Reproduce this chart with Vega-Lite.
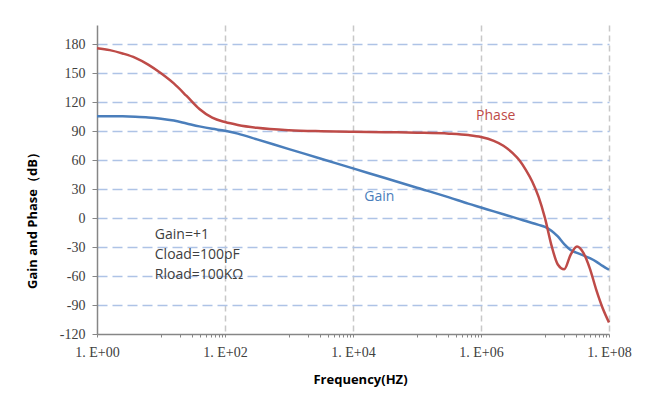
{
  "$schema": "https://vega.github.io/schema/vega-lite/v6.json",
  "width": 512,
  "height": 309,
  "autosize": {"type": "none"},
  "padding": {"left": 97, "top": 25, "right": 39, "bottom": 71},
  "background": "white",
  "config": {"view": {"stroke": null}, "font": "Open Sans"},
  "datasets": {
    "curves": [
      {"series": "Gain", "f": 1, "v": 105.5},
      {"series": "Gain", "f": 1.585, "v": 105.5},
      {"series": "Gain", "f": 2.512, "v": 105.4},
      {"series": "Gain", "f": 3.981, "v": 105},
      {"series": "Gain", "f": 6.31, "v": 104.3},
      {"series": "Gain", "f": 10, "v": 103},
      {"series": "Gain", "f": 15.85, "v": 101},
      {"series": "Gain", "f": 25.12, "v": 98},
      {"series": "Gain", "f": 39.81, "v": 95},
      {"series": "Gain", "f": 63.1, "v": 92.5},
      {"series": "Gain", "f": 100, "v": 90.5},
      {"series": "Gain", "f": 158.5, "v": 87.5},
      {"series": "Gain", "f": 316.2, "v": 81.5},
      {"series": "Gain", "f": 1000, "v": 71.5},
      {"series": "Gain", "f": 3162, "v": 61.5},
      {"series": "Gain", "f": 10000, "v": 51.5},
      {"series": "Gain", "f": 31623, "v": 41.5},
      {"series": "Gain", "f": 100000, "v": 31.5},
      {"series": "Gain", "f": 316228, "v": 21.5},
      {"series": "Gain", "f": 630957, "v": 15},
      {"series": "Gain", "f": 1000000, "v": 11},
      {"series": "Gain", "f": 1584893, "v": 7},
      {"series": "Gain", "f": 2238721, "v": 4},
      {"series": "Gain", "f": 3162278, "v": 1},
      {"series": "Gain", "f": 3981072, "v": -1},
      {"series": "Gain", "f": 5011872, "v": -3},
      {"series": "Gain", "f": 6309573, "v": -5},
      {"series": "Gain", "f": 7943282, "v": -7},
      {"series": "Gain", "f": 10000000, "v": -9},
      {"series": "Gain", "f": 12589254, "v": -13},
      {"series": "Gain", "f": 15848932, "v": -19},
      {"series": "Gain", "f": 19952623, "v": -27},
      {"series": "Gain", "f": 25118864, "v": -33},
      {"series": "Gain", "f": 31622777, "v": -36},
      {"series": "Gain", "f": 39810717, "v": -38.5},
      {"series": "Gain", "f": 50118723, "v": -41.5},
      {"series": "Gain", "f": 63095734, "v": -45},
      {"series": "Gain", "f": 79432823, "v": -49.5},
      {"series": "Gain", "f": 100000000, "v": -53.5},
      {"series": "Phase", "f": 1, "v": 176},
      {"series": "Phase", "f": 1.585, "v": 174},
      {"series": "Phase", "f": 2.512, "v": 170.5},
      {"series": "Phase", "f": 3.981, "v": 166},
      {"series": "Phase", "f": 6.31, "v": 159},
      {"series": "Phase", "f": 10, "v": 150},
      {"series": "Phase", "f": 15.85, "v": 139.5},
      {"series": "Phase", "f": 25.12, "v": 126.5},
      {"series": "Phase", "f": 39.81, "v": 113},
      {"series": "Phase", "f": 63.1, "v": 104},
      {"series": "Phase", "f": 100, "v": 99.5},
      {"series": "Phase", "f": 158.5, "v": 96.5},
      {"series": "Phase", "f": 316.2, "v": 93.5},
      {"series": "Phase", "f": 1000, "v": 91},
      {"series": "Phase", "f": 3162, "v": 90},
      {"series": "Phase", "f": 10000, "v": 89.5},
      {"series": "Phase", "f": 31623, "v": 89},
      {"series": "Phase", "f": 100000, "v": 88.5},
      {"series": "Phase", "f": 316228, "v": 87.5},
      {"series": "Phase", "f": 630957, "v": 86},
      {"series": "Phase", "f": 1000000, "v": 84},
      {"series": "Phase", "f": 1584893, "v": 80},
      {"series": "Phase", "f": 2238721, "v": 75},
      {"series": "Phase", "f": 3162278, "v": 67},
      {"series": "Phase", "f": 3981072, "v": 60},
      {"series": "Phase", "f": 5011872, "v": 50},
      {"series": "Phase", "f": 6309573, "v": 38},
      {"series": "Phase", "f": 7943282, "v": 22},
      {"series": "Phase", "f": 10000000, "v": 0},
      {"series": "Phase", "f": 12589254, "v": -28},
      {"series": "Phase", "f": 15848932, "v": -48},
      {"series": "Phase", "f": 19952623, "v": -53},
      {"series": "Phase", "f": 25118864, "v": -38},
      {"series": "Phase", "f": 31622777, "v": -29.5},
      {"series": "Phase", "f": 39810717, "v": -36},
      {"series": "Phase", "f": 50118723, "v": -52},
      {"series": "Phase", "f": 63095734, "v": -74},
      {"series": "Phase", "f": 79432823, "v": -93},
      {"series": "Phase", "f": 100000000, "v": -108}
    ],
    "labels": [
      {"series": "Phase", "label": "Phase", "f": 1700000, "v": 105.8},
      {"series": "Gain", "label": "Gain", "f": 25700, "v": 21.5}
    ],
    "notes": [
      {"label": "Gain=+1", "f": 8, "v": -17.5},
      {"label": "Cload=100pF", "f": 8, "v": -38},
      {"label": "Rload=100KΩ", "f": 8, "v": -59}
    ]
  },
  "layer": [
    {
      "data": {"name": "curves"},
      "mark": {"type": "line", "strokeWidth": 2.5, "interpolate": "monotone"},
      "encoding": {
        "x": {
          "field": "f",
          "type": "quantitative",
          "scale": {"type": "log", "domain": [1, 100000000]},
          "axis": {
            "values": [1, 10, 20, 30, 40, 50, 60, 70, 80, 90, 100, 1000, 2000, 3000, 4000, 5000, 6000, 7000, 8000, 9000, 10000, 100000, 200000, 300000, 400000, 500000, 600000, 700000, 800000, 900000, 1000000, 10000000, 20000000, 30000000, 40000000, 50000000, 60000000, 70000000, 80000000, 90000000, 100000000],
            "tickCount": 100,
            "labelExpr": "abs(log(datum.value)/LN10 - 2*round(log(datum.value)/LN10/2)) < 0.01 ? '1. E+0' + round(log(datum.value)/LN10) : ''",
            "title": "Frequency(HZ)",
            "titleFont": "Open Sans",
            "titleFontSize": 13,
            "titleFontWeight": "bold",
            "titleColor": "#000000",
            "titleX": 263,
            "titleY": 45,
            "titleAlign": "center",
            "titleBaseline": "middle",
            "labelFont": "Liberation Serif",
            "labelFontSize": 14,
            "labelColor": "#404040",
            "labelPadding": 8,
            "labelFlush": false,
            "labelOverlap": false,
            "labelBound": false,
            "domainColor": "#868686",
            "domainWidth": 1.5,
            "tickColor": "#868686",
            "tickSize": 3,
            "tickWidth": 1,
            "grid": true,
            "gridColor": "#c8c8c8",
            "gridDash": [6, 4],
            "gridWidth": 1.5,
            "gridOpacity": {"condition": {"test": "datum.value > 1.5 && abs(log(datum.value)/LN10 - 2*round(log(datum.value)/LN10/2)) < 0.01", "value": 1}, "value": 0}
          }
        },
        "y": {
          "field": "v",
          "type": "quantitative",
          "scale": {"domain": [-120, 200], "nice": false, "zero": false},
          "axis": {
            "values": [-120, -90, -60, -30, 0, 30, 60, 90, 120, 150, 180],
            "tickCount": 50,
            "labelExpr": "'' + datum.value",
            "labelOverlap": false,
            "labelFlush": false,
            "labelBound": false,
            "title": "Gain and Phase（dB）",
            "titleFont": "Open Sans",
            "titleFontSize": 13,
            "titleFontWeight": "bold",
            "titleColor": "#000000",
            "titleX": -65,
            "titleY": 192,
            "titleAlign": "center",
            "titleBaseline": "middle",
            "labelFont": "Liberation Serif",
            "labelFontSize": 14,
            "labelColor": "#404040",
            "labelPadding": 7,
            "domainColor": "#868686",
            "domainWidth": 1.5,
            "tickColor": "#868686",
            "tickSize": 5,
            "tickWidth": 1,
            "grid": true,
            "gridColor": "#aec3e6",
            "gridDash": [10, 5],
            "gridWidth": 1.5,
            "gridOpacity": {"condition": {"test": "datum.value < -100", "value": 0}, "value": 1}
          }
        },
        "color": {
          "field": "series",
          "type": "nominal",
          "scale": {"domain": ["Gain", "Phase"], "range": ["#4a7ebb", "#be4b48"]},
          "legend": null
        }
      }
    },
    {
      "data": {"name": "labels"},
      "mark": {"type": "text", "fontSize": 14, "font": "Open Sans", "align": "center", "baseline": "middle"},
      "encoding": {
        "x": {"field": "f", "type": "quantitative"},
        "y": {"field": "v", "type": "quantitative"},
        "text": {"field": "label"},
        "color": {"field": "series", "type": "nominal", "legend": null}
      }
    },
    {
      "data": {"name": "notes"},
      "mark": {"type": "text", "fontSize": 14, "font": "Open Sans", "align": "left", "baseline": "middle", "color": "#404040"},
      "encoding": {
        "x": {"field": "f", "type": "quantitative"},
        "y": {"field": "v", "type": "quantitative"},
        "text": {"field": "label"}
      }
    }
  ]
}
